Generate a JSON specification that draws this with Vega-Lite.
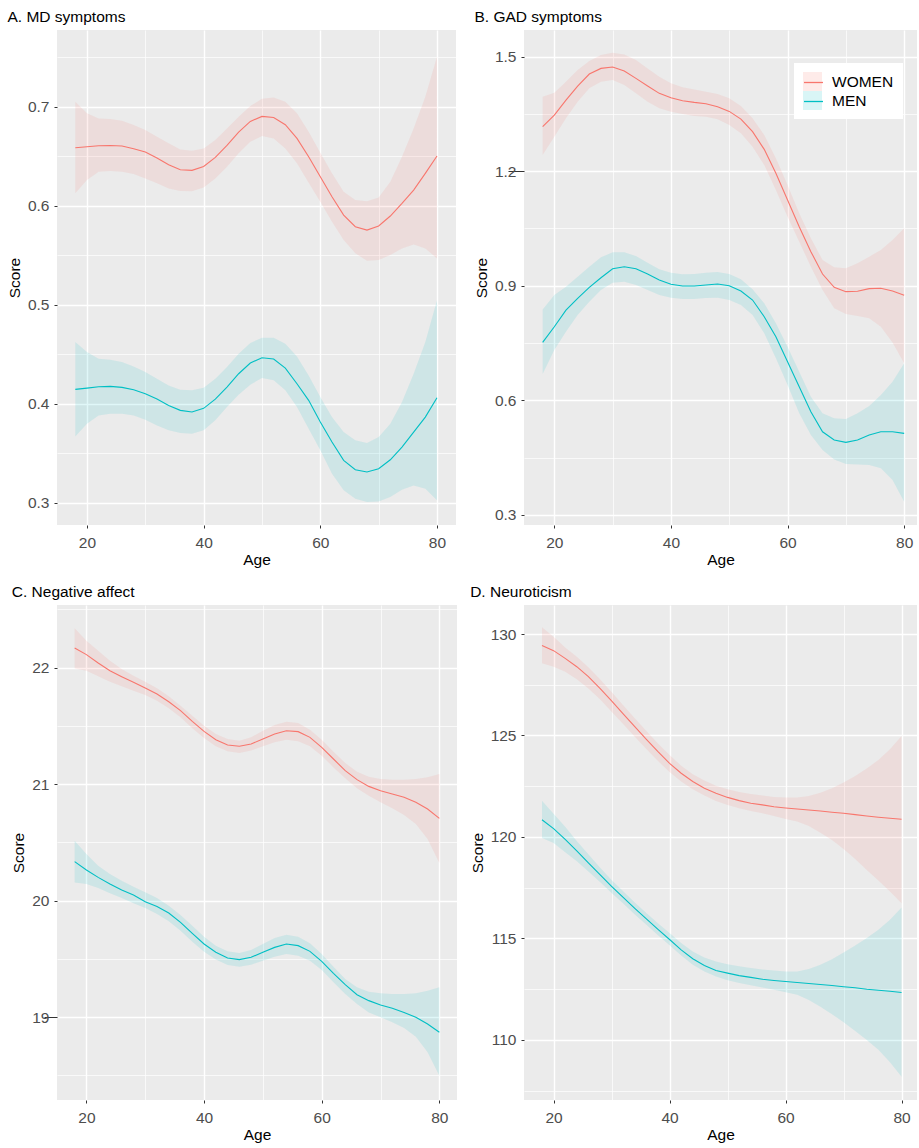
{
"$schema": "https://vega.github.io/schema/vega-lite/v6.json",
"padding": {"left": 7, "top": 9, "right": 0, "bottom": 0},
"datasets": {
"A": [
{"sex":"WOMEN","age":18,"score":0.6586,"lo":0.6125,"hi":0.7051},
{"sex":"WOMEN","age":20,"score":0.6596,"lo":0.6259,"hi":0.6933},
{"sex":"WOMEN","age":22,"score":0.6606,"lo":0.6343,"hi":0.6882},
{"sex":"WOMEN","age":24,"score":0.6609,"lo":0.6350,"hi":0.6875},
{"sex":"WOMEN","age":26,"score":0.6603,"lo":0.6343,"hi":0.6859},
{"sex":"WOMEN","age":28,"score":0.6576,"lo":0.6320,"hi":0.6815},
{"sex":"WOMEN","age":30,"score":0.6542,"lo":0.6276,"hi":0.6764},
{"sex":"WOMEN","age":32,"score":0.6481,"lo":0.6226,"hi":0.6697},
{"sex":"WOMEN","age":34,"score":0.6414,"lo":0.6175,"hi":0.6630},
{"sex":"WOMEN","age":36,"score":0.6364,"lo":0.6148,"hi":0.6569},
{"sex":"WOMEN","age":38,"score":0.6357,"lo":0.6145,"hi":0.6556},
{"sex":"WOMEN","age":40,"score":0.6397,"lo":0.6185,"hi":0.6579},
{"sex":"WOMEN","age":42,"score":0.6488,"lo":0.6276,"hi":0.6663},
{"sex":"WOMEN","age":44,"score":0.6609,"lo":0.6394,"hi":0.6781},
{"sex":"WOMEN","age":46,"score":0.6744,"lo":0.6529,"hi":0.6899},
{"sex":"WOMEN","age":48,"score":0.6852,"lo":0.6646,"hi":0.7007},
{"sex":"WOMEN","age":50,"score":0.6902,"lo":0.6704,"hi":0.7081},
{"sex":"WOMEN","age":52,"score":0.6892,"lo":0.6680,"hi":0.7094},
{"sex":"WOMEN","age":54,"score":0.6818,"lo":0.6579,"hi":0.7051},
{"sex":"WOMEN","age":56,"score":0.6680,"lo":0.6428,"hi":0.6933},
{"sex":"WOMEN","age":58,"score":0.6495,"lo":0.6232,"hi":0.6747},
{"sex":"WOMEN","age":60,"score":0.6293,"lo":0.6040,"hi":0.6535},
{"sex":"WOMEN","age":62,"score":0.6091,"lo":0.5838,"hi":0.6327},
{"sex":"WOMEN","age":64,"score":0.5906,"lo":0.5653,"hi":0.6141},
{"sex":"WOMEN","age":66,"score":0.5788,"lo":0.5519,"hi":0.6057},
{"sex":"WOMEN","age":68,"score":0.5754,"lo":0.5444,"hi":0.6044},
{"sex":"WOMEN","age":70,"score":0.5795,"lo":0.5451,"hi":0.6084},
{"sex":"WOMEN","age":72,"score":0.5896,"lo":0.5502,"hi":0.6242},
{"sex":"WOMEN","age":74,"score":0.6024,"lo":0.5569,"hi":0.6495},
{"sex":"WOMEN","age":76,"score":0.6158,"lo":0.5609,"hi":0.6781},
{"sex":"WOMEN","age":78,"score":0.6327,"lo":0.5569,"hi":0.7101},
{"sex":"WOMEN","age":80,"score":0.6502,"lo":0.5468,"hi":0.7505},
{"sex":"MEN","age":18,"score":0.4145,"lo":0.3670,"hi":0.4623},
{"sex":"MEN","age":20,"score":0.4158,"lo":0.3798,"hi":0.4522},
{"sex":"MEN","age":22,"score":0.4172,"lo":0.3882,"hi":0.4455},
{"sex":"MEN","age":24,"score":0.4175,"lo":0.3899,"hi":0.4444},
{"sex":"MEN","age":26,"score":0.4165,"lo":0.3899,"hi":0.4421},
{"sex":"MEN","age":28,"score":0.4141,"lo":0.3882,"hi":0.4377},
{"sex":"MEN","age":30,"score":0.4101,"lo":0.3838,"hi":0.4320},
{"sex":"MEN","age":32,"score":0.4047,"lo":0.3781,"hi":0.4253},
{"sex":"MEN","age":34,"score":0.3983,"lo":0.3731,"hi":0.4185},
{"sex":"MEN","age":36,"score":0.3933,"lo":0.3704,"hi":0.4141},
{"sex":"MEN","age":38,"score":0.3916,"lo":0.3697,"hi":0.4135},
{"sex":"MEN","age":40,"score":0.3953,"lo":0.3731,"hi":0.4162},
{"sex":"MEN","age":42,"score":0.4047,"lo":0.3832,"hi":0.4253},
{"sex":"MEN","age":44,"score":0.4168,"lo":0.3966,"hi":0.4370},
{"sex":"MEN","age":46,"score":0.4303,"lo":0.4091,"hi":0.4505},
{"sex":"MEN","age":48,"score":0.4411,"lo":0.4192,"hi":0.4613},
{"sex":"MEN","age":50,"score":0.4465,"lo":0.4259,"hi":0.4667},
{"sex":"MEN","age":52,"score":0.4451,"lo":0.4236,"hi":0.4667},
{"sex":"MEN","age":54,"score":0.4360,"lo":0.4135,"hi":0.4606},
{"sex":"MEN","age":56,"score":0.4202,"lo":0.3966,"hi":0.4478},
{"sex":"MEN","age":58,"score":0.4034,"lo":0.3747,"hi":0.4286},
{"sex":"MEN","age":60,"score":0.3815,"lo":0.3529,"hi":0.4067},
{"sex":"MEN","age":62,"score":0.3613,"lo":0.3293,"hi":0.3865},
{"sex":"MEN","age":64,"score":0.3428,"lo":0.3125,"hi":0.3714},
{"sex":"MEN","age":66,"score":0.3333,"lo":0.3040,"hi":0.3630},
{"sex":"MEN","age":68,"score":0.3310,"lo":0.3007,"hi":0.3603},
{"sex":"MEN","age":70,"score":0.3343,"lo":0.3013,"hi":0.3663},
{"sex":"MEN","age":72,"score":0.3434,"lo":0.3057,"hi":0.3798},
{"sex":"MEN","age":74,"score":0.3562,"lo":0.3131,"hi":0.4017},
{"sex":"MEN","age":76,"score":0.3714,"lo":0.3175,"hi":0.4303},
{"sex":"MEN","age":78,"score":0.3865,"lo":0.3141,"hi":0.4623},
{"sex":"MEN","age":80,"score":0.4061,"lo":0.3024,"hi":0.5044}
],
"B": [
{"sex":"WOMEN","age":18,"score":1.3166,"lo":1.2425,"hi":1.3952},
{"sex":"WOMEN","age":20,"score":1.3472,"lo":1.2905,"hi":1.4057},
{"sex":"WOMEN","age":22,"score":1.3865,"lo":1.3385,"hi":1.4345},
{"sex":"WOMEN","age":24,"score":1.4232,"lo":1.3822,"hi":1.4651},
{"sex":"WOMEN","age":26,"score":1.4546,"lo":1.4171,"hi":1.4887},
{"sex":"WOMEN","age":28,"score":1.4694,"lo":1.4345,"hi":1.5044},
{"sex":"WOMEN","age":30,"score":1.4729,"lo":1.4389,"hi":1.5105},
{"sex":"WOMEN","age":32,"score":1.4624,"lo":1.4258,"hi":1.5061},
{"sex":"WOMEN","age":34,"score":1.4433,"lo":1.4040,"hi":1.4913},
{"sex":"WOMEN","age":36,"score":1.4232,"lo":1.3822,"hi":1.4694},
{"sex":"WOMEN","age":38,"score":1.4040,"lo":1.3647,"hi":1.4476},
{"sex":"WOMEN","age":40,"score":1.3926,"lo":1.3560,"hi":1.4302},
{"sex":"WOMEN","age":42,"score":1.3848,"lo":1.3498,"hi":1.4197},
{"sex":"WOMEN","age":44,"score":1.3804,"lo":1.3446,"hi":1.4144},
{"sex":"WOMEN","age":46,"score":1.3769,"lo":1.3429,"hi":1.4083},
{"sex":"WOMEN","age":48,"score":1.3690,"lo":1.3359,"hi":1.4022},
{"sex":"WOMEN","age":50,"score":1.3568,"lo":1.3210,"hi":1.3909},
{"sex":"WOMEN","age":52,"score":1.3367,"lo":1.2992,"hi":1.3708},
{"sex":"WOMEN","age":54,"score":1.3036,"lo":1.2643,"hi":1.3385},
{"sex":"WOMEN","age":56,"score":1.2573,"lo":1.2163,"hi":1.2948},
{"sex":"WOMEN","age":58,"score":1.1945,"lo":1.1508,"hi":1.2337},
{"sex":"WOMEN","age":60,"score":1.1246,"lo":1.0810,"hi":1.1639},
{"sex":"WOMEN","age":62,"score":1.0548,"lo":1.0155,"hi":1.0897},
{"sex":"WOMEN","age":64,"score":0.9893,"lo":0.9500,"hi":1.0242},
{"sex":"WOMEN","age":66,"score":0.9308,"lo":0.8889,"hi":0.9675},
{"sex":"WOMEN","age":68,"score":0.8959,"lo":0.8409,"hi":0.9483},
{"sex":"WOMEN","age":70,"score":0.8845,"lo":0.8260,"hi":0.9457},
{"sex":"WOMEN","age":72,"score":0.8854,"lo":0.8208,"hi":0.9587},
{"sex":"WOMEN","age":74,"score":0.8924,"lo":0.8147,"hi":0.9762},
{"sex":"WOMEN","age":76,"score":0.8933,"lo":0.7929,"hi":0.9937},
{"sex":"WOMEN","age":78,"score":0.8863,"lo":0.7510,"hi":1.0199},
{"sex":"WOMEN","age":80,"score":0.8750,"lo":0.6968,"hi":1.0504},
{"sex":"MEN","age":18,"score":0.7517,"lo":0.6687,"hi":0.8380},
{"sex":"MEN","age":20,"score":0.7926,"lo":0.7316,"hi":0.8757},
{"sex":"MEN","age":22,"score":0.8363,"lo":0.7795,"hi":0.8974},
{"sex":"MEN","age":24,"score":0.8670,"lo":0.8233,"hi":0.9236},
{"sex":"MEN","age":26,"score":0.8958,"lo":0.8581,"hi":0.9498},
{"sex":"MEN","age":28,"score":0.9210,"lo":0.8887,"hi":0.9744},
{"sex":"MEN","age":30,"score":0.9445,"lo":0.9079,"hi":0.9875},
{"sex":"MEN","age":32,"score":0.9498,"lo":0.9105,"hi":0.9875},
{"sex":"MEN","age":34,"score":0.9445,"lo":0.9019,"hi":0.9778},
{"sex":"MEN","age":36,"score":0.9307,"lo":0.8887,"hi":0.9603},
{"sex":"MEN","age":38,"score":0.9150,"lo":0.8757,"hi":0.9430},
{"sex":"MEN","age":40,"score":0.9037,"lo":0.8686,"hi":0.9341},
{"sex":"MEN","age":42,"score":0.8992,"lo":0.8652,"hi":0.9298},
{"sex":"MEN","age":44,"score":0.8992,"lo":0.8652,"hi":0.9307},
{"sex":"MEN","age":46,"score":0.9019,"lo":0.8678,"hi":0.9341},
{"sex":"MEN","age":48,"score":0.9045,"lo":0.8686,"hi":0.9359},
{"sex":"MEN","age":50,"score":0.9000,"lo":0.8626,"hi":0.9307},
{"sex":"MEN","age":52,"score":0.8861,"lo":0.8495,"hi":0.9167},
{"sex":"MEN","age":54,"score":0.8626,"lo":0.8233,"hi":0.8906},
{"sex":"MEN","age":56,"score":0.8189,"lo":0.7753,"hi":0.8539},
{"sex":"MEN","age":58,"score":0.7665,"lo":0.7098,"hi":0.8015},
{"sex":"MEN","age":60,"score":0.7010,"lo":0.6398,"hi":0.7402},
{"sex":"MEN","age":62,"score":0.6355,"lo":0.5657,"hi":0.6747},
{"sex":"MEN","age":64,"score":0.5699,"lo":0.5088,"hi":0.6092},
{"sex":"MEN","age":66,"score":0.5175,"lo":0.4696,"hi":0.5657},
{"sex":"MEN","age":68,"score":0.4957,"lo":0.4451,"hi":0.5526},
{"sex":"MEN","age":70,"score":0.4897,"lo":0.4329,"hi":0.5508},
{"sex":"MEN","age":72,"score":0.4957,"lo":0.4320,"hi":0.5657},
{"sex":"MEN","age":74,"score":0.5088,"lo":0.4303,"hi":0.5848},
{"sex":"MEN","age":76,"score":0.5175,"lo":0.4216,"hi":0.6136},
{"sex":"MEN","age":78,"score":0.5175,"lo":0.3909,"hi":0.6485},
{"sex":"MEN","age":80,"score":0.5133,"lo":0.3341,"hi":0.6967}
],
"C": [
{"sex":"WOMEN","age":18,"score":22.169,"lo":21.994,"hi":22.338},
{"sex":"WOMEN","age":20,"score":22.112,"lo":21.974,"hi":22.232},
{"sex":"WOMEN","age":22,"score":22.040,"lo":21.926,"hi":22.146},
{"sex":"WOMEN","age":24,"score":21.974,"lo":21.880,"hi":22.060},
{"sex":"WOMEN","age":26,"score":21.923,"lo":21.840,"hi":21.989},
{"sex":"WOMEN","age":28,"score":21.874,"lo":21.803,"hi":21.931},
{"sex":"WOMEN","age":30,"score":21.825,"lo":21.765,"hi":21.880},
{"sex":"WOMEN","age":32,"score":21.774,"lo":21.717,"hi":21.823},
{"sex":"WOMEN","age":34,"score":21.708,"lo":21.651,"hi":21.754},
{"sex":"WOMEN","age":36,"score":21.631,"lo":21.574,"hi":21.674},
{"sex":"WOMEN","age":38,"score":21.539,"lo":21.479,"hi":21.588},
{"sex":"WOMEN","age":40,"score":21.453,"lo":21.396,"hi":21.502},
{"sex":"WOMEN","age":42,"score":21.382,"lo":21.325,"hi":21.431},
{"sex":"WOMEN","age":44,"score":21.336,"lo":21.282,"hi":21.388},
{"sex":"WOMEN","age":46,"score":21.325,"lo":21.268,"hi":21.373},
{"sex":"WOMEN","age":48,"score":21.345,"lo":21.288,"hi":21.402},
{"sex":"WOMEN","age":50,"score":21.388,"lo":21.325,"hi":21.459},
{"sex":"WOMEN","age":52,"score":21.431,"lo":21.359,"hi":21.508},
{"sex":"WOMEN","age":54,"score":21.459,"lo":21.382,"hi":21.536},
{"sex":"WOMEN","age":56,"score":21.451,"lo":21.368,"hi":21.525},
{"sex":"WOMEN","age":58,"score":21.402,"lo":21.325,"hi":21.468},
{"sex":"WOMEN","age":60,"score":21.316,"lo":21.245,"hi":21.382},
{"sex":"WOMEN","age":62,"score":21.216,"lo":21.144,"hi":21.279},
{"sex":"WOMEN","age":64,"score":21.116,"lo":21.050,"hi":21.182},
{"sex":"WOMEN","age":66,"score":21.039,"lo":20.964,"hi":21.107},
{"sex":"WOMEN","age":68,"score":20.981,"lo":20.901,"hi":21.064},
{"sex":"WOMEN","age":70,"score":20.944,"lo":20.844,"hi":21.044},
{"sex":"WOMEN","age":72,"score":20.916,"lo":20.793,"hi":21.039},
{"sex":"WOMEN","age":74,"score":20.887,"lo":20.735,"hi":21.039},
{"sex":"WOMEN","age":76,"score":20.844,"lo":20.658,"hi":21.044},
{"sex":"WOMEN","age":78,"score":20.787,"lo":20.529,"hi":21.059},
{"sex":"WOMEN","age":80,"score":20.707,"lo":20.323,"hi":21.087},
{"sex":"MEN","age":18,"score":20.335,"lo":20.157,"hi":20.515},
{"sex":"MEN","age":20,"score":20.263,"lo":20.143,"hi":20.401},
{"sex":"MEN","age":22,"score":20.200,"lo":20.109,"hi":20.300},
{"sex":"MEN","age":24,"score":20.143,"lo":20.063,"hi":20.229},
{"sex":"MEN","age":26,"score":20.092,"lo":20.023,"hi":20.172},
{"sex":"MEN","age":28,"score":20.049,"lo":19.977,"hi":20.120},
{"sex":"MEN","age":30,"score":19.990,"lo":19.937,"hi":20.072},
{"sex":"MEN","age":32,"score":19.950,"lo":19.886,"hi":20.023},
{"sex":"MEN","age":34,"score":19.894,"lo":19.823,"hi":19.957},
{"sex":"MEN","age":36,"score":19.814,"lo":19.742,"hi":19.877},
{"sex":"MEN","age":38,"score":19.720,"lo":19.648,"hi":19.785},
{"sex":"MEN","age":40,"score":19.628,"lo":19.562,"hi":19.691},
{"sex":"MEN","age":42,"score":19.557,"lo":19.494,"hi":19.614},
{"sex":"MEN","age":44,"score":19.508,"lo":19.448,"hi":19.565},
{"sex":"MEN","age":46,"score":19.494,"lo":19.433,"hi":19.551},
{"sex":"MEN","age":48,"score":19.514,"lo":19.451,"hi":19.577},
{"sex":"MEN","age":50,"score":19.557,"lo":19.485,"hi":19.628},
{"sex":"MEN","age":52,"score":19.599,"lo":19.519,"hi":19.680},
{"sex":"MEN","age":54,"score":19.628,"lo":19.542,"hi":19.708},
{"sex":"MEN","age":56,"score":19.614,"lo":19.528,"hi":19.691},
{"sex":"MEN","age":58,"score":19.565,"lo":19.485,"hi":19.634},
{"sex":"MEN","age":60,"score":19.479,"lo":19.405,"hi":19.542},
{"sex":"MEN","age":62,"score":19.376,"lo":19.299,"hi":19.433},
{"sex":"MEN","age":64,"score":19.279,"lo":19.199,"hi":19.328},
{"sex":"MEN","age":66,"score":19.193,"lo":19.113,"hi":19.256},
{"sex":"MEN","age":68,"score":19.142,"lo":19.041,"hi":19.219},
{"sex":"MEN","age":70,"score":19.104,"lo":18.999,"hi":19.205},
{"sex":"MEN","age":72,"score":19.076,"lo":18.956,"hi":19.199},
{"sex":"MEN","age":74,"score":19.041,"lo":18.907,"hi":19.199},
{"sex":"MEN","age":76,"score":18.999,"lo":18.833,"hi":19.205},
{"sex":"MEN","age":78,"score":18.941,"lo":18.698,"hi":19.227},
{"sex":"MEN","age":80,"score":18.870,"lo":18.498,"hi":19.256}
],
"D": [
{"sex":"WOMEN","age":18,"score":129.43,"lo":128.56,"hi":130.33},
{"sex":"WOMEN","age":20,"score":129.18,"lo":128.39,"hi":129.87},
{"sex":"WOMEN","age":22,"score":128.80,"lo":128.14,"hi":129.34},
{"sex":"WOMEN","age":24,"score":128.39,"lo":127.77,"hi":128.88},
{"sex":"WOMEN","age":26,"score":127.90,"lo":127.32,"hi":128.36},
{"sex":"WOMEN","age":28,"score":127.32,"lo":126.78,"hi":127.77},
{"sex":"WOMEN","age":30,"score":126.70,"lo":126.17,"hi":127.14},
{"sex":"WOMEN","age":32,"score":126.06,"lo":125.57,"hi":126.49},
{"sex":"WOMEN","age":34,"score":125.44,"lo":124.94,"hi":125.85},
{"sex":"WOMEN","age":36,"score":124.81,"lo":124.33,"hi":125.22},
{"sex":"WOMEN","age":38,"score":124.20,"lo":123.74,"hi":124.61},
{"sex":"WOMEN","age":40,"score":123.63,"lo":123.20,"hi":124.04},
{"sex":"WOMEN","age":42,"score":123.14,"lo":122.73,"hi":123.51},
{"sex":"WOMEN","age":44,"score":122.73,"lo":122.35,"hi":123.09},
{"sex":"WOMEN","age":46,"score":122.40,"lo":122.04,"hi":122.78},
{"sex":"WOMEN","age":48,"score":122.15,"lo":121.77,"hi":122.53},
{"sex":"WOMEN","age":50,"score":121.95,"lo":121.58,"hi":122.35},
{"sex":"WOMEN","age":52,"score":121.79,"lo":121.41,"hi":122.22},
{"sex":"WOMEN","age":54,"score":121.66,"lo":121.28,"hi":122.12},
{"sex":"WOMEN","age":56,"score":121.58,"lo":121.17,"hi":122.04},
{"sex":"WOMEN","age":58,"score":121.49,"lo":121.03,"hi":121.97},
{"sex":"WOMEN","age":60,"score":121.43,"lo":120.89,"hi":121.94},
{"sex":"WOMEN","age":62,"score":121.38,"lo":120.76,"hi":121.94},
{"sex":"WOMEN","age":64,"score":121.33,"lo":120.54,"hi":122.02},
{"sex":"WOMEN","age":66,"score":121.28,"lo":120.21,"hi":122.18},
{"sex":"WOMEN","age":68,"score":121.22,"lo":119.85,"hi":122.40},
{"sex":"WOMEN","age":70,"score":121.17,"lo":119.41,"hi":122.68},
{"sex":"WOMEN","age":72,"score":121.10,"lo":118.92,"hi":123.00},
{"sex":"WOMEN","age":74,"score":121.03,"lo":118.37,"hi":123.38},
{"sex":"WOMEN","age":76,"score":120.97,"lo":117.85,"hi":123.79},
{"sex":"WOMEN","age":78,"score":120.92,"lo":117.31,"hi":124.32},
{"sex":"WOMEN","age":80,"score":120.87,"lo":116.73,"hi":124.98},
{"sex":"MEN","age":18,"score":120.85,"lo":119.95,"hi":121.79},
{"sex":"MEN","age":20,"score":120.41,"lo":119.70,"hi":121.15},
{"sex":"MEN","age":22,"score":119.88,"lo":119.25,"hi":120.50},
{"sex":"MEN","age":24,"score":119.31,"lo":118.80,"hi":119.80},
{"sex":"MEN","age":26,"score":118.72,"lo":118.30,"hi":119.15},
{"sex":"MEN","age":28,"score":118.14,"lo":117.78,"hi":118.50},
{"sex":"MEN","age":30,"score":117.57,"lo":117.24,"hi":117.88},
{"sex":"MEN","age":32,"score":117.02,"lo":116.72,"hi":117.32},
{"sex":"MEN","age":34,"score":116.48,"lo":116.18,"hi":116.77},
{"sex":"MEN","age":36,"score":115.96,"lo":115.67,"hi":116.25},
{"sex":"MEN","age":38,"score":115.45,"lo":115.16,"hi":115.75},
{"sex":"MEN","age":40,"score":114.95,"lo":114.66,"hi":115.27},
{"sex":"MEN","age":42,"score":114.44,"lo":114.16,"hi":114.77},
{"sex":"MEN","age":44,"score":114.00,"lo":113.70,"hi":114.36},
{"sex":"MEN","age":46,"score":113.67,"lo":113.37,"hi":114.06},
{"sex":"MEN","age":48,"score":113.42,"lo":113.13,"hi":113.87},
{"sex":"MEN","age":50,"score":113.29,"lo":112.94,"hi":113.73},
{"sex":"MEN","age":52,"score":113.17,"lo":112.81,"hi":113.63},
{"sex":"MEN","age":54,"score":113.08,"lo":112.70,"hi":113.54},
{"sex":"MEN","age":56,"score":112.99,"lo":112.58,"hi":113.47},
{"sex":"MEN","age":58,"score":112.93,"lo":112.47,"hi":113.42},
{"sex":"MEN","age":60,"score":112.88,"lo":112.35,"hi":113.37},
{"sex":"MEN","age":62,"score":112.83,"lo":112.22,"hi":113.37},
{"sex":"MEN","age":64,"score":112.78,"lo":111.97,"hi":113.49},
{"sex":"MEN","age":66,"score":112.73,"lo":111.64,"hi":113.70},
{"sex":"MEN","age":68,"score":112.68,"lo":111.27,"hi":113.98},
{"sex":"MEN","age":70,"score":112.62,"lo":110.87,"hi":114.31},
{"sex":"MEN","age":72,"score":112.57,"lo":110.44,"hi":114.65},
{"sex":"MEN","age":74,"score":112.50,"lo":110.00,"hi":115.02},
{"sex":"MEN","age":76,"score":112.45,"lo":109.51,"hi":115.43},
{"sex":"MEN","age":78,"score":112.40,"lo":108.90,"hi":115.92},
{"sex":"MEN","age":80,"score":112.34,"lo":108.19,"hi":116.53}
]
},
"columns": 2,
"bounds": "flush",
"spacing": {"row": 80, "column": 67},
"resolve": {"scale": {"x": "independent", "y": "independent"}, "legend": {"fill": "independent", "stroke": "independent"}},
"concat": [
{
"title": "A. MD symptoms",
"width": 399, "height": 495,
"data": {"name": "A"},
"encoding": {
"x": {"field": "age", "type": "quantitative", "title": "Age",
 "scale": {"domain": [14.86, 83.26], "nice": false, "zero": false},
 "axis": {"values": [20, 30, 40, 50, 60, 70, 80], "tickCount": 40, "labelExpr": "datum.value % 20 == 0 ? datum.label : ''",
  "tickOpacity": {"condition": {"test": "datum.value % 20 != 0", "value": 0}, "value": 1},
  "gridWidth": {"condition": {"test": "datum.value % 20 != 0", "value": 0.7}, "value": 1.4}}}
},
"layer": [
{"mark": {"type": "area", "opacity": 0.12},
 "encoding": {"y": {"field": "lo", "type": "quantitative", "title": "Score",
   "scale": {"domain": [0.2775, 0.7775], "nice": false, "zero": false},
   "axis": {"values": [0.25, 0.3, 0.35, 0.4, 0.45, 0.5, 0.55, 0.6, 0.65, 0.7, 0.75], "tickCount": 40,
    "labelExpr": "abs(datum.value*10 - round(datum.value*10)) < 0.001 ? format(datum.value, '.1f') : ''",
    "tickOpacity": {"condition": {"test": "abs(datum.value*10 - round(datum.value*10)) > 0.001", "value": 0}, "value": 1},
    "gridWidth": {"condition": {"test": "abs(datum.value*10 - round(datum.value*10)) > 0.001", "value": 0.7}, "value": 1.4}}},
  "y2": {"field": "hi"},
  "fill": {"field": "sex", "type": "nominal", "sort": ["WOMEN", "MEN"], "scale": {"domain": ["WOMEN", "MEN"], "range": ["#F8766D", "#00BFC4"]}, "legend": null}}},
{"mark": {"type": "line", "strokeWidth": 1.1},
 "encoding": {"y": {"field": "score", "type": "quantitative"},
  "stroke": {"field": "sex", "type": "nominal", "sort": ["WOMEN", "MEN"], "scale": {"range": ["#F8766D", "#00BFC4"]}, "legend": null}}}
]
},
{
"title": "B. GAD symptoms",
"width": 393, "height": 495,
"data": {"name": "B"},
"encoding": {
"x": {"field": "age", "type": "quantitative", "title": "Age",
 "scale": {"domain": [14.8, 82.2], "nice": false, "zero": false},
 "axis": {"values": [20, 30, 40, 50, 60, 70, 80], "tickCount": 40, "labelExpr": "datum.value % 20 == 0 ? datum.label : ''",
  "tickOpacity": {"condition": {"test": "datum.value % 20 != 0", "value": 0}, "value": 1},
  "gridWidth": {"condition": {"test": "datum.value % 20 != 0", "value": 0.7}, "value": 1.4}}}
},
"layer": [
{"mark": {"type": "area", "opacity": 0.12},
 "encoding": {"y": {"field": "lo", "type": "quantitative", "title": "Score",
   "scale": {"domain": [0.2732, 1.570], "nice": false, "zero": false},
   "axis": {"values": [0.3, 0.45, 0.6, 0.75, 0.9, 1.05, 1.2, 1.35, 1.5], "tickCount": 40,
    "labelExpr": "abs(datum.value/0.3 - round(datum.value/0.3)) < 0.001 ? format(datum.value, '.1f') : ''",
    "tickOpacity": {"condition": {"test": "abs(datum.value/0.3 - round(datum.value/0.3)) > 0.001", "value": 0}, "value": 1},
    "tickSize": {"condition": {"test": "abs(datum.value - 1.2) < 0.001", "value": 16}, "value": 3},
    "labelPadding": {"condition": {"test": "abs(datum.value - 1.2) < 0.001", "value": -8}, "value": 5},
    "gridWidth": {"condition": {"test": "abs(datum.value/0.3 - round(datum.value/0.3)) > 0.001", "value": 0.7}, "value": 1.4}}},
  "y2": {"field": "hi"},
  "fill": {"field": "sex", "type": "nominal", "sort": ["WOMEN", "MEN"], "scale": {"domain": ["WOMEN", "MEN"], "range": ["#F8766D", "#00BFC4"]},
   "legend": {"orient": "none", "legendX": 270, "legendY": 33, "title": null, "symbolType": "square", "symbolSize": 361, "symbolOpacity": 0.15, "symbolStrokeWidth": 0, "labelFontSize": 15.5, "labelColor": "black", "labelOffset": 10, "rowPadding": 0, "padding": 9, "fillColor": "white"}}}},
{"mark": {"type": "line", "strokeWidth": 1.1},
 "encoding": {"y": {"field": "score", "type": "quantitative"},
  "stroke": {"field": "sex", "type": "nominal", "sort": ["WOMEN", "MEN"], "scale": {"range": ["#F8766D", "#00BFC4"]},
   "legend": {"orient": "none", "legendX": 270, "legendY": 33, "title": null, "symbolType": "stroke", "symbolSize": 361, "symbolStrokeWidth": 1.3, "labelFontSize": 15.5, "labelOpacity": 0, "labelOffset": 10, "rowPadding": 0, "padding": 9}}}}
]
},
{
"title": "C. Negative affect",
"width": 400, "height": 495,
"data": {"name": "C"},
"encoding": {
"x": {"field": "age", "type": "quantitative", "title": "Age",
 "scale": {"domain": [15.0, 83.0], "nice": false, "zero": false},
 "axis": {"values": [20, 30, 40, 50, 60, 70, 80], "tickCount": 40, "labelExpr": "datum.value % 20 == 0 ? datum.label : ''",
  "tickOpacity": {"condition": {"test": "datum.value % 20 != 0", "value": 0}, "value": 1},
  "gridWidth": {"condition": {"test": "datum.value % 20 != 0", "value": 0.7}, "value": 1.4}}}
},
"layer": [
{"mark": {"type": "area", "opacity": 0.12},
 "encoding": {"y": {"field": "lo", "type": "quantitative", "title": "Score",
   "scale": {"domain": [18.289, 22.538], "nice": false, "zero": false},
   "axis": {"values": [18.5, 19, 19.5, 20, 20.5, 21, 21.5, 22, 22.5], "tickCount": 40,
    "labelExpr": "abs(datum.value - round(datum.value)) < 0.001 ? format(datum.value, 'd') : ''",
    "tickOpacity": {"condition": {"test": "abs(datum.value - round(datum.value)) > 0.001", "value": 0}, "value": 1},
    "tickSize": {"condition": {"test": "abs(datum.value - 19) < 0.001", "value": 13}, "value": 3},
    "labelPadding": {"condition": {"test": "abs(datum.value - 19) < 0.001", "value": -5}, "value": 5},
    "gridWidth": {"condition": {"test": "abs(datum.value - round(datum.value)) > 0.001", "value": 0.7}, "value": 1.4}}},
  "y2": {"field": "hi"},
  "fill": {"field": "sex", "type": "nominal", "sort": ["WOMEN", "MEN"], "scale": {"domain": ["WOMEN", "MEN"], "range": ["#F8766D", "#00BFC4"]}, "legend": null}}},
{"mark": {"type": "line", "strokeWidth": 1.1},
 "encoding": {"y": {"field": "score", "type": "quantitative"},
  "stroke": {"field": "sex", "type": "nominal", "sort": ["WOMEN", "MEN"], "scale": {"range": ["#F8766D", "#00BFC4"]}, "legend": null}}}
]
},
{
"title": "D. Neuroticism",
"width": 393, "height": 495,
"data": {"name": "D"},
"encoding": {
"x": {"field": "age", "type": "quantitative", "title": "Age",
 "scale": {"domain": [14.9, 82.66], "nice": false, "zero": false},
 "axis": {"values": [20, 30, 40, 50, 60, 70, 80], "tickCount": 40, "labelExpr": "datum.value % 20 == 0 ? datum.label : ''",
  "tickOpacity": {"condition": {"test": "datum.value % 20 != 0", "value": 0}, "value": 1},
  "gridWidth": {"condition": {"test": "datum.value % 20 != 0", "value": 0.7}, "value": 1.4}}}
},
"layer": [
{"mark": {"type": "area", "opacity": 0.12},
 "encoding": {"y": {"field": "lo", "type": "quantitative", "title": "Score",
   "scale": {"domain": [107.04, 131.43], "nice": false, "zero": false},
   "axis": {"values": [107.5, 110, 112.5, 115, 117.5, 120, 122.5, 125, 127.5, 130], "tickCount": 40,
    "labelExpr": "datum.value % 5 == 0 ? format(datum.value, 'd') : ''",
    "tickOpacity": {"condition": {"test": "datum.value % 5 != 0", "value": 0}, "value": 1},
    "gridWidth": {"condition": {"test": "datum.value % 5 != 0", "value": 0.7}, "value": 1.4}}},
  "y2": {"field": "hi"},
  "fill": {"field": "sex", "type": "nominal", "sort": ["WOMEN", "MEN"], "scale": {"domain": ["WOMEN", "MEN"], "range": ["#F8766D", "#00BFC4"]}, "legend": null}}},
{"mark": {"type": "line", "strokeWidth": 1.1},
 "encoding": {"y": {"field": "score", "type": "quantitative"},
  "stroke": {"field": "sex", "type": "nominal", "sort": ["WOMEN", "MEN"], "scale": {"range": ["#F8766D", "#00BFC4"]}, "legend": null}}}
]
}
],
"config": {
"font": "Liberation Sans",
"view": {"fill": "#EBEBEB", "stroke": null},
"axis": {"domain": false, "gridColor": "#FFFFFF", "tickColor": "#333333", "tickSize": 3, "labelColor": "#4D4D4D", "labelFontSize": 15.5, "titleFontSize": 15.5, "titleColor": "#000000", "titleFontWeight": "normal", "titlePadding": 2},
"axisX": {"labelPadding": 7},
"axisY": {"labelPadding": 5, "titlePadding": 5},
"title": {"anchor": "start", "fontSize": 15.5, "fontWeight": "normal", "color": "#000000", "offset": 5, "baseline": "alphabetic"}
}
}
